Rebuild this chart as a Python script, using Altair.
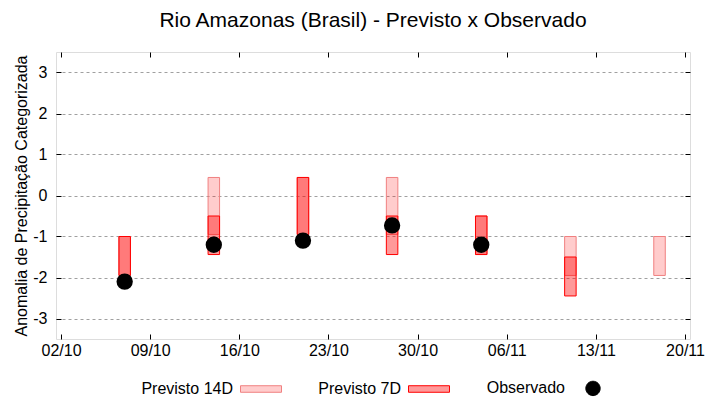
import altair as alt
import pandas as pd

# ---- data ----
semanas = ["2023-10-07", "2023-10-14", "2023-10-21", "2023-10-28",
           "2023-11-04", "2023-11-11", "2023-11-18"]
p14_sup = [-1.0, 0.44, 0.44, 0.44, -0.5, -1.0, -1.0]
p14_inf = [-1.95, -0.95, -0.95, -0.95, -1.44, -1.95, -1.95]
p7_sup = [-1.0, -0.5, 0.44, -0.5, -0.5, -1.5, None]
p7_inf = [-1.95, -1.44, -0.95, -1.44, -1.44, -2.45, None]
observado = [-2.1, -1.2, -1.1, -0.73, -1.2, None, None]

tick_datas = ["2023-10-02", "2023-10-09", "2023-10-16", "2023-10-23",
              "2023-10-30", "2023-11-06", "2023-11-13", "2023-11-20"]
y_ticks = [-3, -2, -1, 0, 1, 2, 3]
series = ["Previsto 14D", "Previsto 7D", "Observado"]

fill_cores = ["rgba(255,0,0,0.2)", "rgba(255,0,0,0.4)", "#000000"]
stroke_cores = ["#f08080", "#ff0000", "#000000"]
rect_path = "M-1,-0.16L1,-0.16L1,0.16L-1,0.16Z"
circ_path = "M0.35,0A0.35,0.35 0 1,1 -0.35,0A0.35,0.35 0 1,1 0.35,0Z"
formas = [rect_path, rect_path, circ_path]

FONT = "Liberation Sans"


def dt(s):
    y, m, d = map(int, s.split("-"))
    return alt.DateTime(year=y, month=m, date=d, utc=True)


rows = []
for s, a, b in zip(semanas, p14_sup, p14_inf):
    rows.append({"data": s, "sup": a, "inf": b, "serie": series[0]})
for s, a, b in zip(semanas, p7_sup, p7_inf):
    if a is not None:
        rows.append({"data": s, "sup": a, "inf": b, "serie": series[1]})
bars_df = pd.DataFrame(rows)

obs_df = pd.DataFrame([{"data": s, "valor": v, "serie": series[2]}
                       for s, v in zip(semanas, observado) if v is not None])

xscale = alt.Scale(type="utc", domain=[dt(tick_datas[0]), dt(tick_datas[-1])])
yscale = alt.Scale(domain=[-3.5, 3.5], nice=False, zero=False)
fill_scale = alt.Scale(domain=series, range=fill_cores)
stroke_scale = alt.Scale(domain=series, range=stroke_cores)
shape_scale = alt.Scale(domain=series, range=formas)

tick_vals = [dt(s) for s in tick_datas]

legend = alt.Legend(
    orient="none", legendX=184, legendY=315, direction="horizontal",
    title=None, labelFontSize=16, labelFont=FONT, labelColor="black",
    labelAlign="right", labelOffset={"expr": "-49"}, symbolSize=1681,
    symbolStrokeWidth=1, columnPadding=34, padding=0,
)

bars = alt.Chart(bars_df).mark_bar(size=11.5, strokeWidth=1).encode(
    x=alt.X("data:T", scale=xscale,
            axis=alt.Axis(orient="bottom", values=tick_vals, format="%d/%m",
                          offset=-5, tickSize=5, tickColor="black",
                          domain=False, grid=False, title=None,
                          labelFont=FONT, labelFontSize=16, labelColor="black",
                          labelPadding=3, labelFlush=False)),
    y=alt.Y("sup:Q", scale=yscale,
            axis=alt.Axis(orient="left", values=y_ticks,
                          labelExpr="'' + datum.value",
                          offset=-5, tickSize=5, tickColor="black",
                          domain=False, grid=True, gridColor="#a0a0a0",
                          gridDash=[3, 3], gridWidth=1,
                          title="Anomalia de Precipitação Categorizada",
                          titleFont=FONT, titleFontSize=16,
                          titleFontWeight="normal", titleColor="black",
                          titlePadding=3,
                          labelFont=FONT, labelFontSize=16, labelColor="black",
                          labelPadding=9)),
    y2="inf:Q",
    fill=alt.Fill("serie:N", scale=fill_scale, legend=legend),
    stroke=alt.Stroke("serie:N", scale=stroke_scale),
)

pontos = alt.Chart(obs_df).mark_point(filled=True, size=1681, opacity=1).encode(
    x=alt.X("data:T", scale=xscale,
            axis=alt.Axis(orient="top", values=tick_vals, labels=False,
                          offset=-5, tickSize=5, tickColor="black",
                          domain=False, grid=False, title=None)),
    y=alt.Y("valor:Q", scale=yscale,
            axis=alt.Axis(orient="right", values=y_ticks, labels=False,
                          offset=-5, tickSize=5, tickColor="black",
                          domain=False, grid=False, title=None)),
    fill=alt.Fill("serie:N", scale=fill_scale),
    stroke=alt.Stroke("serie:N", scale=stroke_scale),
    shape=alt.Shape("serie:N", scale=shape_scale),
)

chart = alt.layer(bars, pontos).resolve_axis(
    x="independent", y="independent"
).properties(
    width=634, height=287,
    autosize=alt.AutoSizeParams(type="none"),
    padding={"left": 48, "top": 44, "right": 20, "bottom": 58},
    title=alt.TitleParams(
        "Rio Amazonas (Brasil) - Previsto x Observado",
        font=FONT, fontSize=21, fontWeight="normal", color="black",
        anchor="middle", offset=21,
    ),
).configure_view(
    stroke="black", strokeWidth=1
).configure(background="white")

chart.save("out.html", embed_options={"renderer": "svg", "actions": False})
